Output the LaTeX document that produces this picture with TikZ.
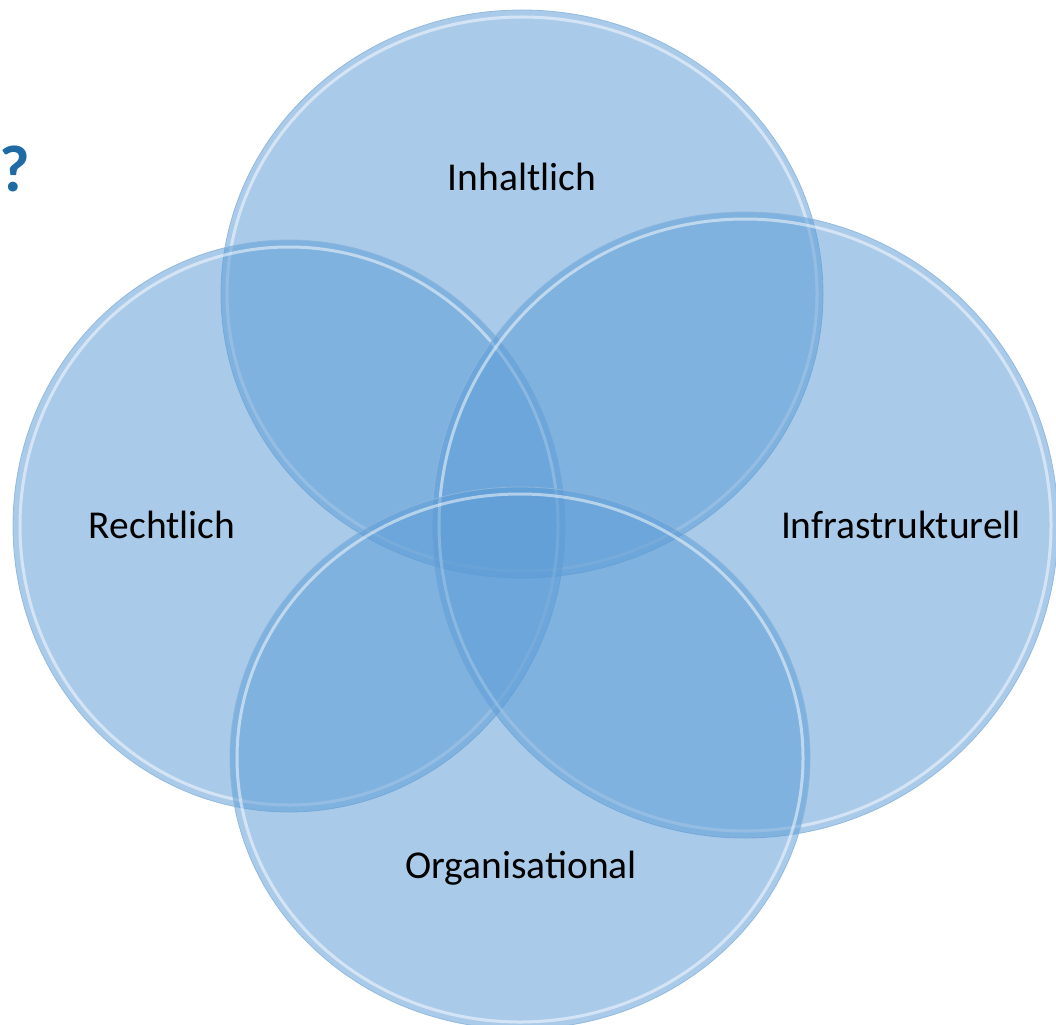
\documentclass[tikz,border=0pt]{standalone}
\usepackage{fontspec}
\setmainfont{Carlito}
\usetikzlibrary{shapes.geometric}
\definecolor{venn}{HTML}{5B9BD5}
\definecolor{vedge}{HTML}{8DB6DD}
\definecolor{qblue}{HTML}{1D6AA5}
\tikzset{
  vcircle/.style={ellipse, inner sep=0pt, fill=venn, fill opacity=0.52, draw=vedge, draw opacity=0.9, line width=0.8pt},
  vring/.style={draw=white, opacity=0.5, line width=3pt},
  vlabel/.style={font=\fontsize{39.5}{44}\selectfont, text=black, inner sep=0pt},
}
\begin{document}
\begin{tikzpicture}[x=1pt,y=-1pt]
\useasboundingbox (0,0) rectangle (1056,1024);
\clip (0,0) rectangle (1056,1024);
% top
\node[vcircle, minimum width=602pt, minimum height=568pt] (top) at (522,294) {};
\draw[vring] (top.center) ellipse [x radius=295, y radius=277];
% left
\node[vcircle, minimum width=552pt, minimum height=572pt] (left) at (289,526) {};
\draw[vring] (left.center) ellipse [x radius=269, y radius=279];
% right
\node[vcircle, minimum width=626pt, minimum height=626pt] (right) at (745,525) {};
\draw[vring] (right.center) ellipse [x radius=306, y radius=306];
% bottom
\node[vcircle, minimum width=580pt, minimum height=542pt] (bottom) at (520,758) {};
\draw[vring] (bottom.center) ellipse [x radius=283, y radius=264];
% labels
\node[vlabel] (l1) at (522,177) {Inhaltlich};
\node[vlabel] (l2) at (162,525) {Rechtlich};
\node[vlabel] (l3) at (901,525) {Infrastrukturell};
\node[vlabel] (l4) at (521,868) {Organisational};
\node[anchor=base west, inner sep=0pt, text=qblue, font=\fontsize{66}{76}\selectfont\bfseries] (q) at (-1,192) {?};
\end{tikzpicture}
\end{document}
